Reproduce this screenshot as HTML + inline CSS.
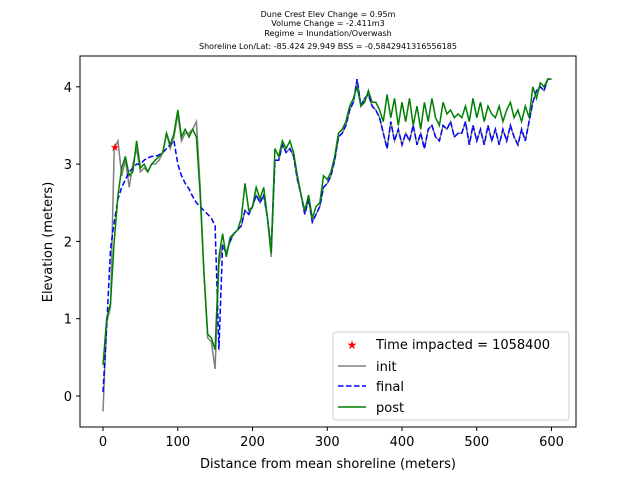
<!DOCTYPE html>
<html><head><meta charset="utf-8"><style>
body{margin:0;background:#fff;}
svg{font-family:"DejaVu Sans","Liberation Sans",sans-serif;}
</style></head><body>
<svg id="chart" width="640" height="480" viewBox="0 0 640 480">
<g font-size="8" text-anchor="middle" fill="#000">
<text x="328" y="17">Dune Crest Elev Change = 0.95m</text>
<text x="328" y="26">Volume Change = -2.411m3</text>
<text x="328" y="36">Regime = Inundation/Overwash</text>
<text x="328" y="49">Shoreline Lon/Lat: -85.424 29.949   BSS = -0.5842941316556185</text>
</g>
<g id="plot"></g>
<rect x="80" y="56" width="496" height="371" fill="none" stroke="#000" stroke-width="1"/>
<g id="xticks" font-size="13" text-anchor="middle"></g>
<g id="yticks" font-size="13" text-anchor="end"></g>
<text x="328" y="468" font-size="13" text-anchor="middle">Distance from mean shoreline (meters)</text>
<text x="0" y="0" font-size="13" text-anchor="middle" transform="translate(52,242) rotate(-90)">Elevation (meters)</text>
<g>
<rect x="333" y="332" width="236" height="88" rx="3" fill="#fff" fill-opacity="0.8" stroke="#ccc"/>
<g>
<text x="352" y="349" font-size="12" fill="#f00" text-anchor="middle">★</text>
<text x="376" y="349" font-size="13">Time impacted = 1058400</text></g>
<g>
<line x1="338" y1="366" x2="366" y2="366" stroke="#808080" stroke-width="1.5"/>
<text x="376" y="371" font-size="13">init</text></g>
<g>
<line x1="338" y1="386" x2="366" y2="386" stroke="#0000ff" stroke-width="1.5" stroke-dasharray="5.5,2.5"/>
<text x="376" y="391" font-size="13">final</text></g>
<g>
<line x1="338" y1="407" x2="366" y2="407" stroke="#008000" stroke-width="1.5"/>
<text x="376" y="412" font-size="13">post</text></g>
</g>
</svg>
<script>
const xTicks=[0,100,200,300,400,500,600];
const yTicks=[0,1,2,3,4];
const post=[0.4,1.0,1.2,2.0,2.6,2.95,3.1,2.85,2.9,3.3,2.95,3.0,2.9,3.0,3.05,3.1,3.15,3.4,3.25,3.4,3.7,3.35,3.45,3.35,3.45,3.35,2.6,1.6,0.8,0.75,0.6,1.8,2.1,1.8,2.05,2.1,2.15,2.3,2.75,2.4,2.45,2.7,2.55,2.7,2.3,1.85,3.2,3.1,3.3,3.2,3.3,3.15,2.85,2.6,2.4,2.6,2.3,2.45,2.5,2.85,2.8,2.9,3.1,3.4,3.45,3.55,3.75,3.85,4.0,3.75,3.8,3.95,3.8,3.8,3.7,3.55,3.9,3.6,3.85,3.5,3.8,3.55,3.85,3.5,3.75,3.45,3.8,3.55,3.85,3.6,3.5,3.8,3.65,3.7,3.6,3.65,3.6,3.75,3.55,3.85,3.6,3.8,3.55,3.75,3.65,3.6,3.75,3.55,3.7,3.8,3.6,3.7,3.55,3.75,3.6,4.0,3.85,4.05,4.0,4.1,4.1];
const finalV=[0.05,0.9,1.9,2.25,2.55,2.7,2.8,2.9,2.95,3.0,3.0,3.05,3.08,3.1,3.1,3.12,3.15,3.2,3.25,3.3,3.0,2.85,2.75,2.68,2.58,2.5,2.45,2.4,2.35,2.3,2.2,0.6,1.95,1.85,2.0,2.1,2.15,2.2,2.4,2.35,2.45,2.6,2.5,2.6,2.3,1.9,3.05,3.05,3.25,3.15,3.2,3.1,2.8,2.6,2.35,2.55,2.25,2.35,2.45,2.7,2.75,2.85,3.05,3.35,3.4,3.5,3.7,3.8,4.1,3.75,3.85,3.9,3.75,3.7,3.6,3.4,3.2,3.55,3.3,3.45,3.25,3.4,3.3,3.5,3.25,3.4,3.2,3.45,3.5,3.35,3.3,3.5,3.45,3.55,3.35,3.4,3.4,3.55,3.25,3.5,3.3,3.45,3.25,3.5,3.3,3.45,3.25,3.45,3.3,3.5,3.35,3.25,3.45,3.3,3.55,3.8,3.95,4.0,3.95,4.1,4.1];
const init=[-0.2,0.95,1.15,3.2,3.3,2.85,3.05,2.7,3.0,3.2,2.9,2.95,2.9,3.0,3.0,3.05,3.15,3.4,3.2,3.35,3.65,3.3,3.4,3.4,3.45,3.55,2.7,1.6,0.75,0.7,0.35,1.7,1.95,1.85,2.0,2.1,2.15,2.2,2.4,2.35,2.45,2.6,2.5,2.6,2.3,1.8,3.05,3.05,3.25,3.15,3.2,3.1,2.8,2.6,2.35,2.55,2.25,2.35,2.45,2.7,2.75,2.85,3.05,3.35,3.4,3.5,3.7,3.8,4.1,3.75,3.85,3.9,3.75,3.7,3.6,3.4,3.2,3.55,3.3,3.45,3.25,3.4,3.3,3.5,3.25,3.4,3.2,3.45,3.5,3.35,3.3,3.5,3.45,3.55,3.35,3.4,3.4,3.55,3.25,3.5,3.3,3.45,3.25,3.5,3.3,3.45,3.25,3.45,3.3,3.5,3.35,3.25,3.45,3.3,3.55,3.8,3.95,4.0,3.95,4.1,4.1];
const xStep=5;
const impactX=[16];
const impactY=[3.22];
function sx(d){return 103+d*0.7475;}
function sy(v){return 396-v*77.3;}
const NS='http://www.w3.org/2000/svg';
const plot=document.getElementById('plot');
function line(arr,color,dash,name){
  const p=document.createElementNS(NS,'path');
  p.setAttribute('d',arr.map((v,i)=>(i?'L':'M')+sx(i*xStep).toFixed(1)+','+sy(v).toFixed(1)).join(''));
  p.setAttribute('fill','none');p.setAttribute('stroke',color);p.setAttribute('stroke-width','1.5');
  if(dash)p.setAttribute('stroke-dasharray',dash);
  
  
  plot.appendChild(p);
}
line(init,'#808080',null,'init-line');
line(finalV,'#0000ff','5.5,2.5','final-line');
line(post,'#008000',null,'post-line');
impactX.forEach((d,i)=>{
  const t=document.createElementNS(NS,'text');
  t.setAttribute('x',sx(d));t.setAttribute('y',sy(impactY[i])+4);
  t.setAttribute('font-size','11');t.setAttribute('fill','#f00');t.setAttribute('text-anchor','middle');
  t.textContent='★';
  
  
  plot.appendChild(t);
});
const xg=document.getElementById('xticks');
xTicks.forEach(v=>{
  const l=document.createElementNS(NS,'line');
  l.setAttribute('x1',sx(v));l.setAttribute('x2',sx(v));l.setAttribute('y1',427);l.setAttribute('y2',431);l.setAttribute('stroke','#000');
  
  
  xg.appendChild(l);
  const t=document.createElementNS(NS,'text');
  t.setAttribute('x',sx(v));t.setAttribute('y',446);t.textContent=v;
  
  
  xg.appendChild(t);
});
const yg=document.getElementById('yticks');
yTicks.forEach(v=>{
  const l=document.createElementNS(NS,'line');
  l.setAttribute('x1',76);l.setAttribute('x2',80);l.setAttribute('y1',sy(v));l.setAttribute('y2',sy(v));l.setAttribute('stroke','#000');
  
  
  yg.appendChild(l);
  const t=document.createElementNS(NS,'text');
  t.setAttribute('x',72);t.setAttribute('y',sy(v)+5);t.textContent=v;
  
  
  yg.appendChild(t);
});
</script>
</body></html>
